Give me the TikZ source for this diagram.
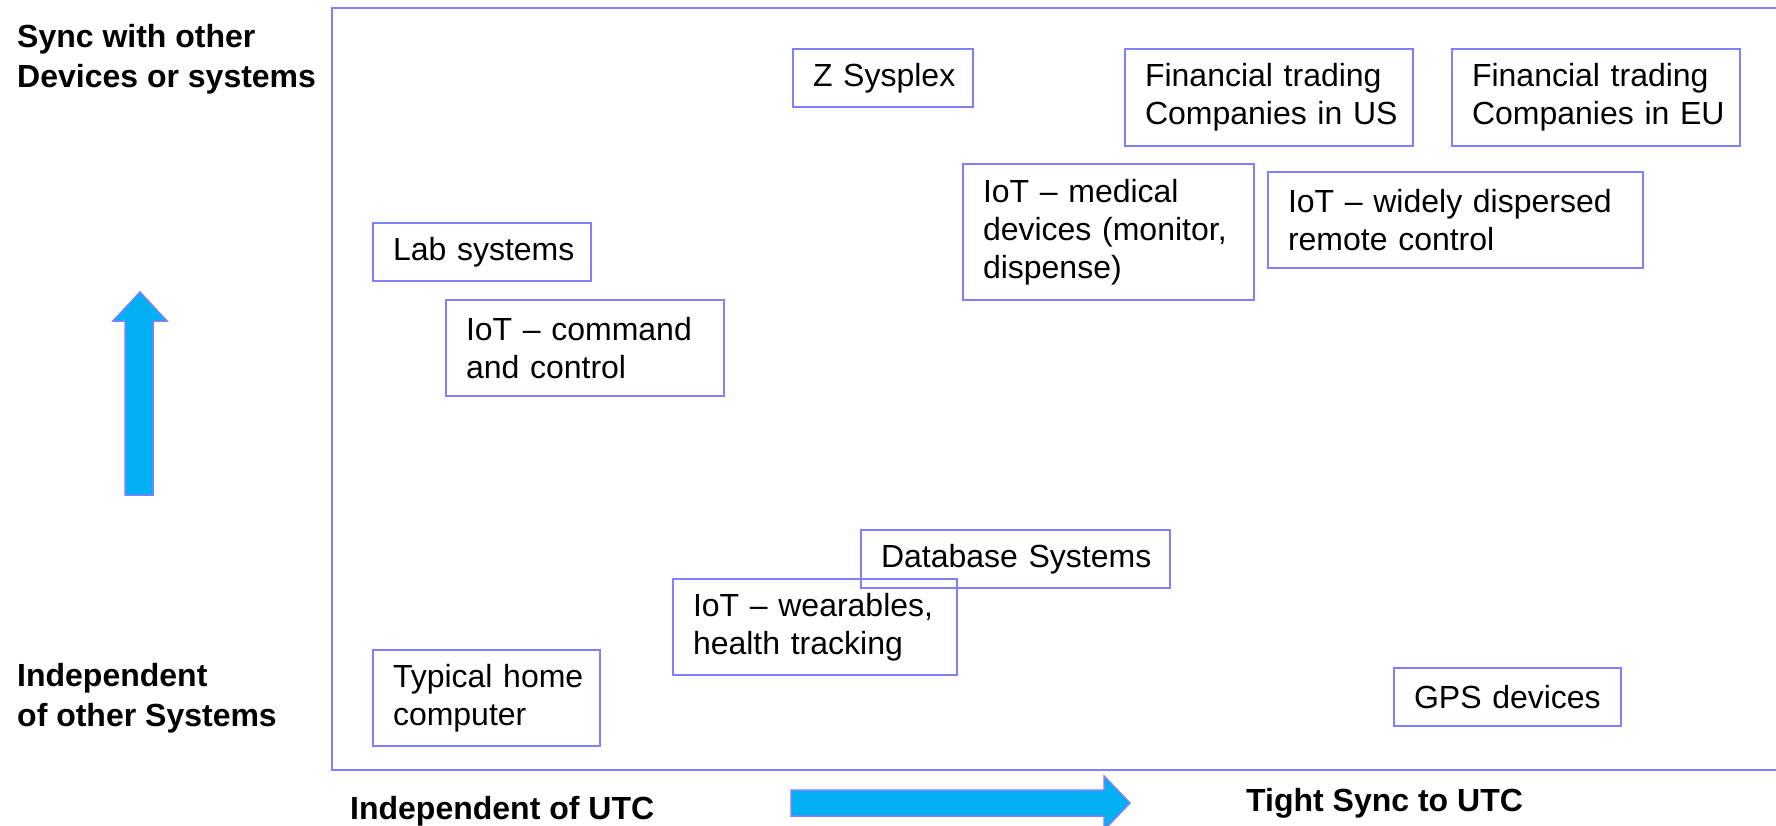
\documentclass[tikz,border=0pt]{standalone}
\usepackage{fontspec}
\setmainfont{Liberation Sans}
\definecolor{bcol}{HTML}{8080FF}
\definecolor{afill}{HTML}{00B0F0}
\tikzset{
  itembox/.style={draw=bcol, line width=2pt, inner xsep=20pt, inner ysep=0pt,
    align=left, anchor=north west, font=\fontsize{32}{38}\selectfont},
  axislabel/.style={inner sep=0pt, align=left, anchor=base west,
    font=\bfseries\fontsize{32}{40}\selectfont},
  bigarrow/.style={draw=bcol, line width=1.5pt, fill=afill, line join=miter}
}
\begin{document}
\begin{tikzpicture}[x=1pt,y=-1pt]
\clip (0,0) rectangle (1776,825);
\fill[white] (0,0) rectangle (1776,825);
% frame
\draw[bcol, line width=2pt] (1800,8) -- (332,8) -- (332,770) -- (1800,770);
% axis labels (base anchor = last line)
\node[axislabel] (sync) at (17,87) {Sync with other\\Devices or systems};
\node[axislabel] (indep) at (17,726) {Independent\\of other Systems};
\node[axislabel] (iutc) at (350,819) {Independent of UTC};
\node[axislabel] (tutc) at (1246,811) {Tight Sync to UTC};
% arrows
\draw[bigarrow] (125,495) -- (125,321) -- (113,321) -- (140,292) -- (167,321) -- (153,321) -- (153,495) -- cycle;
\draw[bigarrow] (791,790) -- (1104,790) -- (1104,776) -- (1130,803) -- (1104,830) -- (1104,816) -- (791,816) -- cycle;
% boxes
\node[itembox, text width=178pt, minimum height=58pt] (lab) at (372,222) {\mbox{Lab systems}};
\node[itembox, text width=238pt, minimum height=96pt] (cmd) at (445,299) {\mbox{IoT – command}\\\mbox{and control}};
\node[itembox, text width=140pt, minimum height=58pt] (zsys) at (792,48) {\mbox{Z Sysplex}};
\node[itembox, text width=248pt, minimum height=97pt] (finus) at (1124,48) {\mbox{Financial trading}\\\mbox{Companies in US}};
\node[itembox, text width=248pt, minimum height=97pt] (fineu) at (1451,48) {\mbox{Financial trading}\\\mbox{Companies in EU}};
\node[itembox, text width=251pt, minimum height=136pt] (med) at (962,163) {\mbox{IoT – medical}\\\mbox{devices (monitor,}\\\mbox{dispense)}};
\node[itembox, text width=335pt, minimum height=96pt] (wide) at (1267,171) {\mbox{IoT – widely dispersed}\\\mbox{remote control}};
\node[itembox, text width=269pt, minimum height=58pt] (db) at (860,529) {\mbox{Database Systems}};
\node[itembox, text width=244pt, minimum height=96pt] (wear) at (672,578) {\mbox{IoT – wearables,}\\\mbox{health tracking}};
\node[itembox, text width=187pt, minimum height=96pt] (home) at (372,649) {\mbox{Typical home}\\\mbox{computer}};
\node[itembox, text width=187pt, minimum height=58pt] (gps) at (1393,667) {\mbox{GPS devices}};
\end{tikzpicture}
\end{document}
